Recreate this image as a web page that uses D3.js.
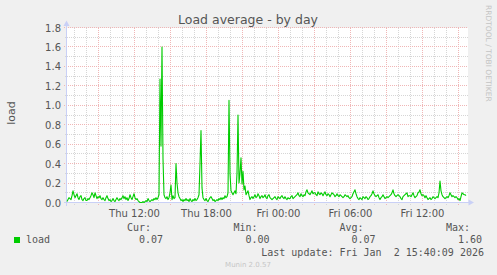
<!DOCTYPE html>
<html><head><meta charset="utf-8">
<script src="https://cdn.jsdelivr.net/npm/d3@7"></script>
<style>html,body{margin:0;padding:0;background:#F0F0F0;} svg{display:block;}</style>
</head><body><svg id="c" width="497" height="275"></svg>
<script>
// ---- data ----
const chartTitle = "Load average - by day";
const yAxisLabel = "load";
const seriesName = "load";
const startTime = "2026-01-01T06:20:00Z";   // Thu 06:20
const endTime = "2026-01-02T15:40:00Z";     // Fri 15:40
const stepMinutes = 5;
const loadValues = [
  0.01,0.03,0.05,0.04,0.03,0.07,0.12,0.08,0.05,0.07,0.09,0.05,
  0.03,0.06,0.07,0.03,0.02,0.04,0.05,0.02,0.02,0.04,0.03,0.05,
  0.07,0.10,0.08,0.05,0.10,0.07,0.04,0.06,0.05,0.07,0.04,0.03,
  0.05,0.03,0.02,0.05,0.07,0.04,0.02,0.03,0.01,0.02,0.04,0.02,
  0.01,0.03,0.05,0.03,0.02,0.04,0.03,0.05,0.07,0.04,0.06,0.03,
  0.05,0.02,0.04,0.08,0.05,0.03,0.06,0.09,0.05,0.03,0.04,0.02,
  0.01,0.00,0.00,0.00,0.01,0.00,0.01,0.02,0.01,0.04,0.02,0.01,
  0.02,0.03,0.02,0.04,0.03,0.05,0.03,0.05,0.08,1.27,0.58,1.60,
  0.45,0.08,0.05,0.04,0.06,0.03,0.05,0.10,0.18,0.03,0.07,0.04,
  0.05,0.40,0.20,0.10,0.06,0.04,0.02,0.03,0.01,0.03,0.02,0.04,
  0.02,0.03,0.01,0.04,0.02,0.01,0.03,0.02,0.04,0.02,0.03,0.05,
  0.08,0.40,0.74,0.15,0.05,0.03,0.02,0.04,0.02,0.01,0.03,0.05,
  0.06,0.04,0.02,0.03,0.01,0.02,0.03,0.02,0.04,0.03,0.05,0.03,
  0.05,0.04,0.07,0.05,0.06,0.10,1.05,0.30,0.12,0.10,0.08,0.10,
  0.12,0.09,0.30,0.90,0.20,0.30,0.46,0.19,0.32,0.13,0.17,0.08,
  0.10,0.12,0.07,0.03,0.05,0.06,0.04,0.06,0.08,0.05,0.06,0.09,
  0.07,0.04,0.06,0.07,0.05,0.06,0.08,0.05,0.04,0.07,0.08,0.05,
  0.04,0.03,0.04,0.05,0.06,0.04,0.03,0.06,0.05,0.04,0.06,0.07,
  0.05,0.04,0.06,0.04,0.03,0.05,0.04,0.04,0.06,0.07,0.04,0.05,
  0.06,0.07,0.08,0.10,0.07,0.06,0.09,0.07,0.06,0.08,0.07,0.11,
  0.13,0.10,0.09,0.08,0.10,0.12,0.09,0.10,0.10,0.08,0.07,0.11,
  0.09,0.08,0.10,0.09,0.07,0.09,0.11,0.08,0.07,0.09,0.08,0.06,
  0.08,0.10,0.09,0.08,0.06,0.07,0.09,0.07,0.06,0.08,0.07,0.06,
  0.05,0.06,0.08,0.07,0.06,0.07,0.05,0.04,0.05,0.06,0.09,0.11,
  0.13,0.09,0.06,0.04,0.03,0.05,0.04,0.03,0.06,0.05,0.04,0.06,
  0.05,0.03,0.04,0.06,0.07,0.09,0.12,0.09,0.07,0.06,0.07,0.08,
  0.05,0.03,0.05,0.06,0.08,0.06,0.04,0.05,0.06,0.05,0.06,0.07,
  0.08,0.10,0.13,0.09,0.07,0.06,0.07,0.08,0.07,0.06,0.04,0.03,
  0.06,0.07,0.08,0.09,0.10,0.06,0.07,0.07,0.06,0.08,0.10,0.07,
  0.05,0.06,0.07,0.10,0.11,0.13,0.09,0.07,0.08,0.07,0.05,0.07,
  0.05,0.03,0.04,0.05,0.03,0.04,0.06,0.05,0.04,0.05,0.06,0.05,
  0.10,0.22,0.12,0.08,0.06,0.05,0.04,0.05,0.06,0.05,0.07,0.10,
  0.08,0.06,0.07,0.06,0.05,0.06,0.05,0.03,0.04,0.02,0.06,0.10,
  0.09,0.08,0.08,0.07
];
const yTickValues = [0.0,0.2,0.4,0.6,0.8,1.0,1.2,1.4,1.6,1.8];
const yMinorValues = [0.1,0.3,0.5,0.7,0.9,1.1,1.3,1.5,1.7];
const legendHeads = ["Cur:","Min:","Avg:","Max:"];
const legendValues = ["0.07","0.00","0.07","1.60"];
const lastUpdateText = "Last update: Fri Jan  2 15:40:09 2026";
const footerText = "Munin 2.0.57";
const watermarkText = "RRDTOOL / TOBI OETIKER";

// ---- drawing ----
const svg = d3.select("#c");
const W = 497, H = 275;
const L = 67, R = 467, T = 28, B = 203;
const t0 = new Date(startTime), t1 = new Date(endTime);
const x = d3.scaleUtc().domain([t0, t1]).range([L, R]);
const y = d3.scaleLinear().domain([0, 1.8]).range([B, T]);
const crisp = v => Math.round(v) + 0.5;
const sans = "'DejaVu Sans', sans-serif";
const mono = "'DejaVu Sans Mono', monospace";
const fontCol = "#555";

svg.append("rect").attr("width", W).attr("height", H).attr("fill", "#F0F0F0");
svg.append("rect").attr("x", L).attr("y", T).attr("width", R - L + 1).attr("height", B - T).attr("fill", "#fff");

const grid = svg.append("g").attr("stroke-width", 1).attr("shape-rendering", "crispEdges");
const minorCol = "#d6d6d6", majorCol = "#f0b6b6";
// horizontal minor
yMinorValues.forEach(v => {
  grid.append("line").attr("x1", L - 2).attr("x2", R + 1).attr("y1", crisp(y(v)) - 1).attr("y2", crisp(y(v)) - 1)
    .attr("stroke", minorCol).attr("stroke-dasharray", "1,1");
});
// vertical minor (hourly)
const hours = d3.utcHour.every(1).range(t0, t1);
hours.forEach(h => {
  if (h.getUTCHours() % 3 === 0) return;
  const px = crisp(x(h)) - 1;
  grid.append("line").attr("x1", px).attr("x2", px).attr("y1", T).attr("y2", B + 2)
    .attr("stroke", minorCol).attr("stroke-dasharray", "1,1");
});
// horizontal major
yTickValues.forEach(v => {
  const py = crisp(y(v)) - 1;
  grid.append("line").attr("x1", L - 3).attr("x2", R + 1).attr("y1", py).attr("y2", py)
    .attr("stroke", majorCol).attr("stroke-dasharray", "1,1");
});
// vertical major (3h)
const majors = d3.utcHour.every(3).range(t0, t1);
majors.forEach(h => {
  const px = crisp(x(h)) - 1;
  grid.append("line").attr("x1", px).attr("x2", px).attr("y1", T).attr("y2", B + 3)
    .attr("stroke", majorCol).attr("stroke-dasharray", "1,1");
});

// axes
const axisCol = "#c9d0f6";
svg.append("line").attr("x1", L - 0.5).attr("x2", L - 0.5).attr("y1", B + 3).attr("y2", 25)
  .attr("stroke", axisCol).attr("shape-rendering", "crispEdges");
svg.append("line").attr("x1", L - 3).attr("x2", 469).attr("y1", B - 0.5).attr("y2", B - 0.5)
  .attr("stroke", axisCol).attr("shape-rendering", "crispEdges");
svg.append("path").attr("d", `M${L - 0.5},20.5 L${L - 3.5},26 L${L + 2.5},26 Z`).attr("fill", axisCol);
svg.append("path").attr("d", `M474,${B - 0.5} L468.5,${B - 3.5} L468.5,${B + 2.5} Z`).attr("fill", axisCol);

// y tick labels
const yAxis = d3.axisLeft(y).tickValues(yTickValues).tickFormat(d3.format(".1f")).tickSize(0).tickPadding(0);
const gy = svg.append("g").attr("transform", `translate(${L - 6},-0.5)`).call(yAxis);
gy.select(".domain").remove();
gy.selectAll("text").attr("font-family", sans).attr("font-size", 10).attr("fill", fontCol).attr("dy", "0.36em");

// x tick labels
const xAxis = d3.axisBottom(x).ticks(d3.utcHour.every(6)).tickFormat(d3.utcFormat("%a %H:%M")).tickSize(0).tickPadding(0);
const gx = svg.append("g").attr("transform", `translate(-1,${B + 14})`).call(xAxis);
gx.select(".domain").remove();
gx.selectAll("text").attr("font-family", sans).attr("font-size", 10).attr("fill", fontCol).attr("dy", 0);

// series line
const pts = loadValues.map((v, i) => ({ t: new Date(t0.getTime() + i * stepMinutes * 60000), v }));
const line = d3.line().x(d => x(d.t)).y(d => y(d.v) - 0.5);
svg.append("path").datum(pts).attr("d", line).attr("fill", "none").attr("stroke", "#00CC00")
  .attr("stroke-width", 1.1).attr("stroke-linejoin", "round");

// title
svg.append("text").attr("x", 248).attr("y", 24).attr("text-anchor", "middle")
  .attr("font-family", sans).attr("font-size", 12.5).attr("fill", fontCol).text(chartTitle);
// y label
svg.append("text").attr("transform", "translate(14.5,113) rotate(-90)").attr("text-anchor", "middle")
  .attr("font-family", sans).attr("font-size", 11).attr("fill", fontCol).text(yAxisLabel);
// watermark
svg.append("text").attr("transform", "translate(486,5) rotate(90)").attr("text-anchor", "start")
  .attr("font-family", sans).attr("font-size", 7.5).attr("fill", "#c4c4c4").text(watermarkText);

// legend
svg.append("rect").attr("x", 14).attr("y", 237).attr("width", 6).attr("height", 6).attr("fill", "#00CC00");
svg.append("text").attr("x", 26).attr("y", 243).attr("font-family", mono).attr("font-size", 10)
  .attr("fill", fontCol).text(seriesName);
const headX = [127, 233.5, 339.5, 446];
legendHeads.forEach((h, i) => {
  svg.append("text").attr("x", headX[i]).attr("y", 231).attr("font-family", mono).attr("font-size", 10)
    .attr("fill", fontCol).text(h);
  svg.append("text").attr("x", headX[i] + 12.04).attr("y", 243).attr("font-family", mono).attr("font-size", 10)
    .attr("fill", fontCol).text(legendValues[i]);
});
svg.append("text").attr("x", 484).attr("y", 255.5).attr("text-anchor", "end").style("white-space", "pre")
  .attr("font-family", mono).attr("font-size", 10).attr("fill", fontCol).text(lastUpdateText);
svg.append("text").attr("x", 248).attr("y", 266.5).attr("text-anchor", "middle")
  .attr("font-family", sans).attr("font-size", 7).attr("fill", "#c6c6c6").text(footerText);
</script></body></html>
